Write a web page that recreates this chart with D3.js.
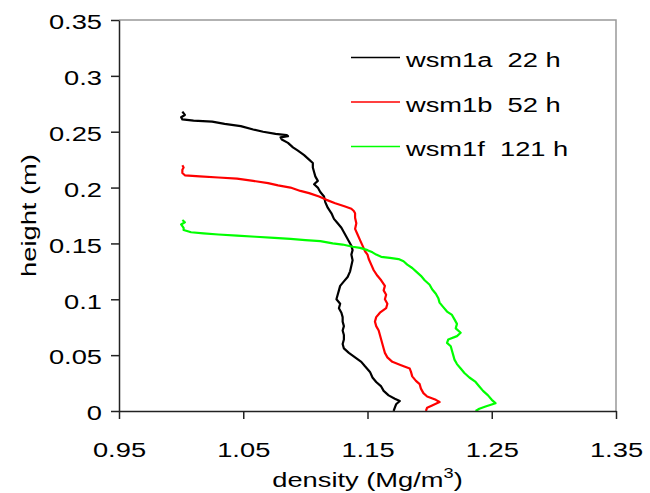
<!DOCTYPE html>
<html>
<head>
<meta charset="utf-8">
<script src="https://cdn.jsdelivr.net/npm/d3@7"></script>
<style>
  body { margin: 0; background: #fff; }
  text { font-family: "Liberation Sans", Arial, sans-serif; fill: #000; white-space: pre; }
</style>
</head>
<body>
<svg></svg>
<script>
// tick labels
var xTicks = [0.95, 1.05, 1.15, 1.25, 1.35];
var yTicks = [0, 0.05, 0.1, 0.15, 0.2, 0.25, 0.3, 0.35];

// series names
var seriesNames = ["wsm1a  22 h", "wsm1b  52 h", "wsm1f  121 h"];
var seriesColors = ["#000000", "#ff0000", "#00ff00"];

// wsm1a (22 h)
var wsm1aHeight = [0.268,0.265,0.263,0.261,0.260,0.259,0.257,0.255,0.252,0.250,0.248,0.247,0.246,0.245,0.243,0.240,0.236,0.233,0.229,0.225,0.222,0.218,0.214,0.210,0.206,0.203,0.200,0.196,0.192,0.187,0.182,0.177,0.172,0.168,0.164,0.160,0.156,0.152,0.148,0.144,0.140,0.135,0.130,0.125,0.120,0.116,0.112,0.108,0.104,0.100,0.096,0.092,0.088,0.084,0.080,0.076,0.072,0.068,0.064,0.060,0.056,0.052,0.048,0.044,0.040,0.035,0.030,0.026,0.022,0.018,0.014,0.011,0.009,0.006,0.003,0.000];
var wsm1aDensity = [1.001,1.003,1.000,1.001,1.010,1.025,1.035,1.048,1.058,1.066,1.076,1.085,1.086,1.080,1.081,1.086,1.090,1.094,1.099,1.103,1.106,1.106,1.107,1.108,1.110,1.107,1.110,1.112,1.115,1.116,1.118,1.121,1.123,1.126,1.129,1.131,1.133,1.135,1.137,1.138,1.137,1.138,1.137,1.136,1.134,1.131,1.128,1.127,1.126,1.125,1.128,1.127,1.129,1.130,1.130,1.131,1.130,1.131,1.131,1.130,1.131,1.135,1.140,1.145,1.148,1.152,1.154,1.157,1.161,1.163,1.167,1.172,1.176,1.173,1.172,1.171];

// wsm1b (52 h)
var wsm1bHeight = [0.220,0.218,0.216,0.213,0.211,0.210,0.209,0.208,0.206,0.204,0.202,0.200,0.197,0.195,0.192,0.189,0.186,0.183,0.181,0.179,0.177,0.173,0.168,0.163,0.158,0.153,0.148,0.143,0.140,0.136,0.131,0.126,0.121,0.117,0.112,0.108,0.104,0.100,0.096,0.092,0.088,0.084,0.080,0.076,0.072,0.068,0.064,0.060,0.056,0.052,0.048,0.044,0.041,0.038,0.035,0.031,0.027,0.024,0.020,0.016,0.013,0.010,0.008,0.005,0.003,0.000];
var wsm1bDensity = [1.001,1.002,1.001,1.001,1.003,1.015,1.030,1.045,1.058,1.070,1.078,1.088,1.096,1.103,1.111,1.117,1.124,1.132,1.137,1.139,1.140,1.140,1.141,1.140,1.142,1.144,1.146,1.148,1.150,1.151,1.153,1.155,1.158,1.161,1.164,1.163,1.165,1.164,1.166,1.165,1.160,1.157,1.156,1.157,1.159,1.160,1.161,1.162,1.163,1.164,1.166,1.170,1.177,1.184,1.185,1.186,1.189,1.192,1.193,1.195,1.198,1.205,1.208,1.202,1.198,1.197];

// wsm1f (121 h)
var wsm1fHeight = [0.171,0.169,0.167,0.164,0.162,0.160,0.159,0.158,0.157,0.156,0.155,0.154,0.153,0.152,0.150,0.149,0.147,0.146,0.144,0.142,0.140,0.138,0.137,0.136,0.134,0.131,0.128,0.125,0.121,0.117,0.113,0.109,0.105,0.101,0.097,0.093,0.089,0.086,0.082,0.078,0.074,0.070,0.067,0.064,0.061,0.058,0.054,0.050,0.046,0.042,0.038,0.034,0.030,0.026,0.022,0.018,0.014,0.010,0.007,0.004,0.002,0.000];
var wsm1fDensity = [1.001,1.003,1.000,1.002,1.002,1.008,1.018,1.030,1.045,1.060,1.075,1.088,1.100,1.112,1.122,1.130,1.138,1.144,1.150,1.154,1.157,1.161,1.168,1.175,1.179,1.182,1.186,1.189,1.193,1.196,1.200,1.202,1.205,1.207,1.208,1.211,1.214,1.218,1.220,1.222,1.221,1.225,1.222,1.215,1.214,1.217,1.218,1.219,1.220,1.222,1.225,1.228,1.232,1.237,1.240,1.243,1.247,1.250,1.253,1.245,1.240,1.237];

var SETTINGS = { width: 650, height: 493, margin: { top: 20, right: 34, bottom: 82, left: 119 } };
var STRETCH = 1.3;   // text in the original is drawn wide

function draw_chart() {
var width = SETTINGS.width - SETTINGS.margin.left - SETTINGS.margin.right,
    height = SETTINGS.height - SETTINGS.margin.top - SETTINGS.margin.bottom;

var svg = d3.select("svg")
    .attr("width", SETTINGS.width)
    .attr("height", SETTINGS.height);

var g = svg.append("g")
    .attr("transform", "translate(" + SETTINGS.margin.left + "," + SETTINGS.margin.top + ")");

var x = d3.scaleLinear().domain([0.95, 1.35]).range([0, width]);
var y = d3.scaleLinear().domain([0, 0.35]).range([height, 0]);

// plot frame (top and right)
g.append("path")
    .attr("d", "M0,0H" + width + "V" + height)
    .attr("fill", "none")
    .attr("stroke", "#999")
    .attr("stroke-width", 1.5);

var series = [
  { height: wsm1aHeight, density: wsm1aDensity },
  { height: wsm1bHeight, density: wsm1bDensity },
  { height: wsm1fHeight, density: wsm1fDensity }
];

var line = d3.line()
    .x(function(d) { return x(d[0]); })
    .y(function(d) { return y(d[1]); });

g.selectAll(".series")
    .data(series)
  .enter().append("path")
    .attr("class", "series")
    .attr("fill", "none")
    .attr("stroke", function(d, i) { return seriesColors[i]; })
    .attr("stroke-width", 2.2)
    .attr("stroke-linejoin", "round")
    .attr("d", function(d) {
      return line(d.density.map(function(v, i) { return [v, d.height[i]]; }));
    });

var xAxis = g.append("g")
    .attr("transform", "translate(0," + height + ")")
    .call(d3.axisBottom(x).tickValues(xTicks).tickSize(8).tickSizeOuter(0)
      .tickFormat(function(d) { return d3.format(".2f")(d); }));
xAxis.selectAll("text")
    .attr("font-size", 21)
    .attr("y", 31)
    .attr("transform", "scale(" + STRETCH + ",1)");

var yAxis = g.append("g")
    .call(d3.axisLeft(y).tickValues(yTicks).tickSize(8).tickSizeOuter(0)
      .tickFormat(function(d) { return String(+d.toFixed(2)); }));
yAxis.selectAll("text")
    .attr("font-size", 21)
    .attr("x", -17 / STRETCH)
    .attr("dy", "0.42em")
    .attr("transform", "scale(" + STRETCH + ",1)");

svg.selectAll(".domain, .tick line")
    .attr("stroke", "#222")
    .attr("stroke-width", 1.5);

// axis titles
var xt = svg.append("text")
    .attr("transform", "translate(" + (SETTINGS.margin.left + width / 2) + ",487) scale(" + STRETCH + ",1)")
    .attr("text-anchor", "middle")
    .attr("font-size", 21)
    .text("density (Mg/m");
xt.append("tspan").attr("font-size", 14).attr("dy", -9).text("3");
xt.append("tspan").attr("font-size", 21).attr("dy", 9).text(")");

svg.append("text")
    .attr("transform", "translate(36," + (SETTINGS.margin.top + height / 2) + ") rotate(-90) scale(" + STRETCH + ",1)")
    .attr("text-anchor", "middle")
    .attr("font-size", 21)
    .text("height (m)");

// legend
var legend = svg.selectAll(".legend")
    .data(seriesNames)
  .enter().append("g")
    .attr("class", "legend")
    .attr("transform", function(d, i) { return "translate(351," + (57.5 + i * 44.5) + ")"; });

legend.append("line")
    .attr("x1", 0).attr("x2", 49)
    .attr("stroke", function(d, i) { return seriesColors[i]; })
    .attr("stroke-width", 1.5);

legend.append("text")
    .attr("transform", "translate(55,0) scale(" + STRETCH + ",1)")
    .attr("y", 9.5)
    .attr("font-size", 21)
    .text(function(d) { return d; });
}

draw_chart();
</script>
</body>
</html>
